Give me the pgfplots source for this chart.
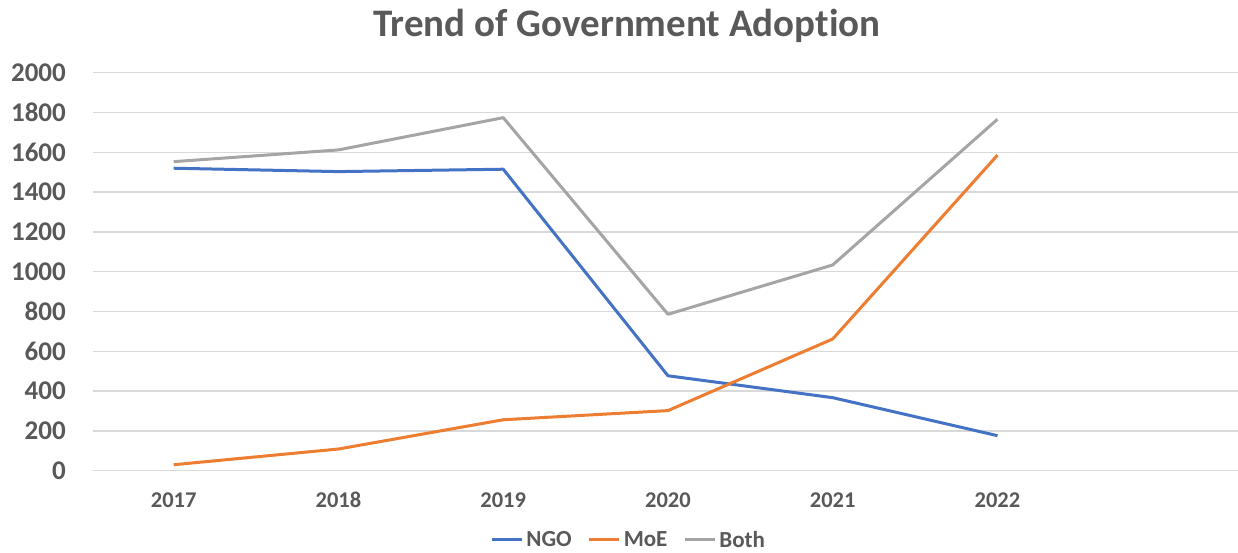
\documentclass[border=0pt]{standalone}
\usepackage{pgfplots}
\pgfplotsset{compat=1.18}
\usepackage{fontspec}
\setmainfont[Ligatures=NoCommon]{Carlito}
\definecolor{ngo}{HTML}{4472C4}
\definecolor{moe}{HTML}{ED7D31}
\definecolor{both}{HTML}{A5A5A5}
\definecolor{txt}{HTML}{595959}
\definecolor{gridgray}{HTML}{D9D9D9}
\begin{document}
\begin{tikzpicture}
\begin{axis}[
  at={(93pt,81.3pt)}, anchor=south west,
  scale only axis, width=1145pt, height=398pt,
  xmin=-0.49, xmax=6.46, ymin=0, ymax=2000,
  xtick={0,1,2,3,4,5}, xticklabels={2017,2018,2019,2020,2021,2022},
  ytick={0,200,...,2000},
  /pgf/number format/assume math mode=true,
  /pgf/number format/set thousands separator={},
  ymajorgrids, grid style={color=gridgray, line width=1.3pt},
  axis line style={draw=none},
  major tick length=0pt,
  yticklabel style={font=\fontsize{27}{27}\selectfont\bfseries, text=txt, inner sep=0pt, xshift=-27pt},
  xticklabel style={font=\fontsize{22.5}{22.5}\selectfont\bfseries, text=txt, inner sep=0pt,
    text height=15pt, text depth=0pt, yshift=-22pt},
  title={Trend of Government Adoption},
  title style={at={(0.4664,1.0947)}, anchor=base, yshift=-7pt, font=\fontsize{39}{39}\selectfont\bfseries, text=txt},
  legend style={at={(0.467,-0.174)}, anchor=center, draw=none, fill=none,
    legend columns=-1, font=\fontsize{23}{23}\selectfont\bfseries, text=txt,
    nodes={inner sep=0pt},
    /tikz/every odd column/.append style={column sep=3pt},
    /tikz/every even column/.append style={column sep=16pt}},
  legend image code/.code={\draw[#1] (0pt,0pt) -- (30pt,0pt);},
  every axis plot/.append style={line width=3pt, line join=round},
]
\addplot[color=ngo, mark=none] coordinates {(0,1520) (1,1503) (2,1515) (3,477) (4,367) (5,176)};
\addlegendentry{NGO}
\addplot[color=moe, mark=none] coordinates {(0,30) (1,109) (2,256) (3,302) (4,662) (5,1586)};
\addlegendentry{MoE}
\addplot[color=both, mark=none] coordinates {(0,1553) (1,1612) (2,1774) (3,786) (4,1034) (5,1766)};
\addlegendentry{Both}
\end{axis}
\pgfresetboundingbox
\path[use as bounding box] (0,0) rectangle (1238pt,552pt);
\end{tikzpicture}
\end{document}
